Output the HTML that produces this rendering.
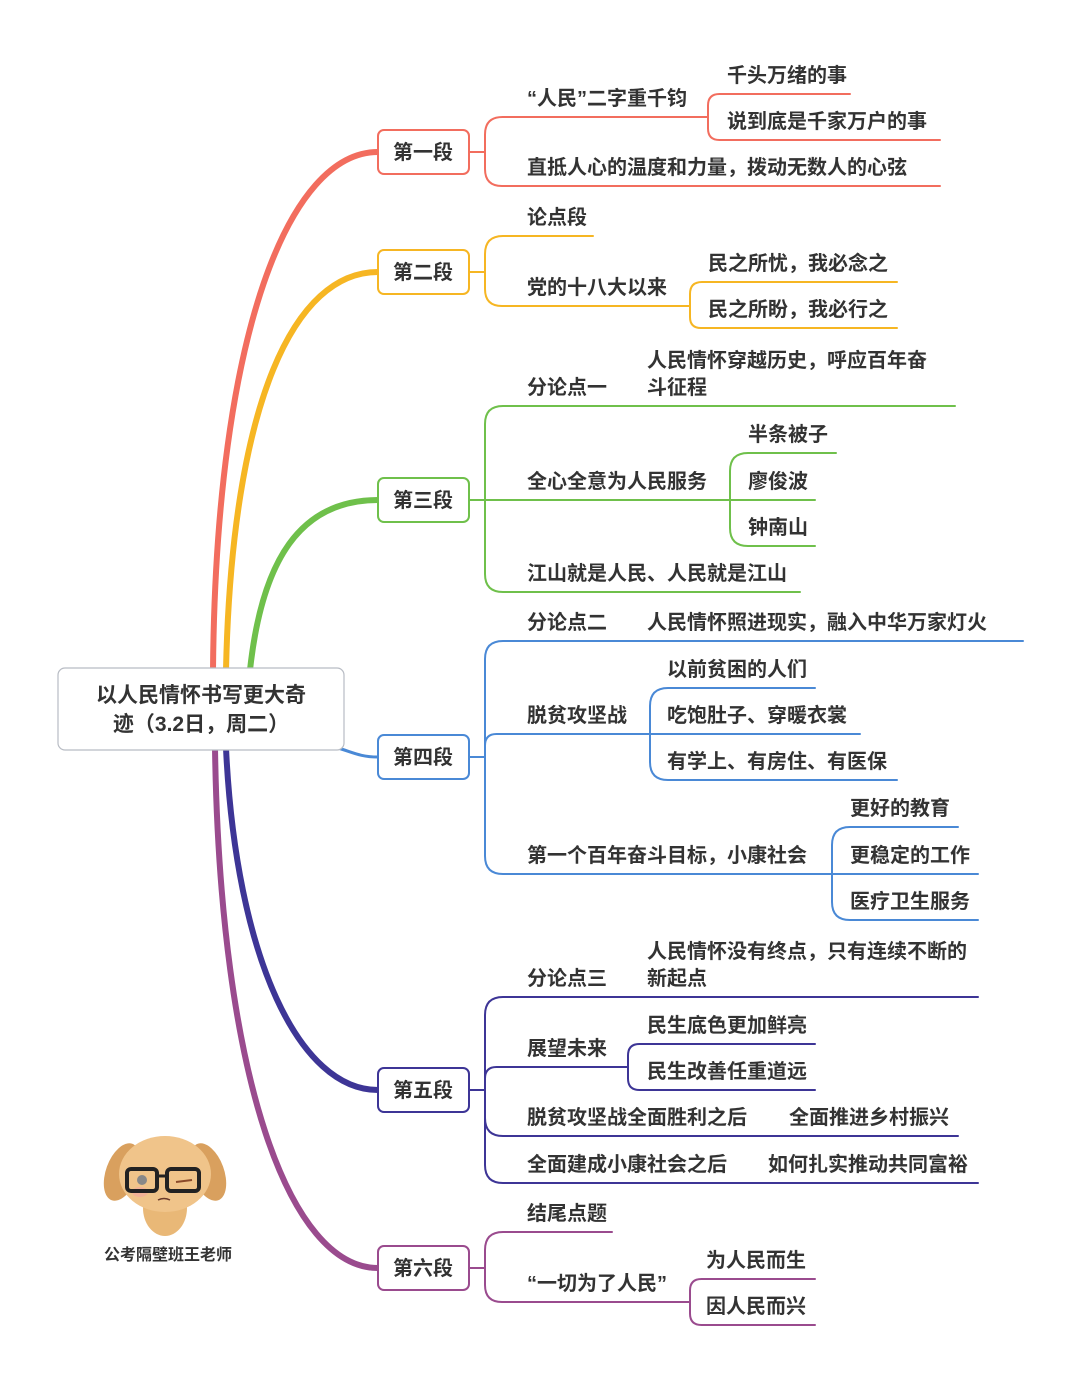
<!DOCTYPE html>
<html><head><meta charset="utf-8"><style>
html,body{margin:0;padding:0;background:#fff;}
svg{display:block;}
text{font-family:"Liberation Sans","Noto Sans CJK SC",sans-serif;font-weight:bold;fill:#333;font-size:20px;}
</style></head><body>
<svg id="s" width="1080" height="1382" viewBox="0 0 1080 1382" xmlns="http://www.w3.org/2000/svg">
<g id="lines" fill="none" stroke-linecap="round"></g>
<g fill="none" stroke-linecap="round" stroke-width="6">
<path d="M213,670 C216,330 290,152 378,152" stroke="#f26d5e"/>
<path d="M226,670 C232,400 295,272 378,272" stroke="#f6b623"/>
<path d="M250,670 C262,560 300,500 378,500" stroke="#6fc04b"/>
<path d="M226,748 C236,960 300,1090 378,1090" stroke="#3d3596"/>
<path d="M215,748 C220,1080 290,1268 378,1268" stroke="#9a4b8e"/>
<path d="M338,748 C352,752 360,757 378,757" stroke="#4a89d6" stroke-width="3"/>
</g>
<rect x="58" y="668" width="286" height="82" rx="7" fill="#fff" stroke="#b8bcc4" stroke-width="1.2"/>
<text x="201" y="702" text-anchor="middle" style="font-size:21px">以人民情怀书写更大奇</text>
<text x="201" y="731" text-anchor="middle" style="font-size:21px">迹（3.2日，周二）</text>
<g fill="#fff" stroke-width="2">
<rect x="378" y="130" width="91" height="44" rx="6" stroke="#f26d5e"/>
<rect x="378" y="250" width="91" height="44" rx="6" stroke="#f6b623"/>
<rect x="378" y="478" width="91" height="44" rx="6" stroke="#6fc04b"/>
<rect x="378" y="735" width="91" height="44" rx="6" stroke="#4a89d6"/>
<rect x="378" y="1068" width="91" height="44" rx="6" stroke="#3d3596"/>
<rect x="378" y="1246" width="91" height="44" rx="6" stroke="#9a4b8e"/>
</g>
<g text-anchor="middle">
<text x="423" y="159">第一段</text><text x="423" y="279">第二段</text><text x="423" y="507">第三段</text>
<text x="423" y="764">第四段</text><text x="423" y="1097">第五段</text><text x="423" y="1275">第六段</text>
</g>
<text x="527" y="105">“人民”二字重千钧</text>
<text x="527" y="174">直抵人心的温度和力量，拨动无数人的心弦</text>
<text x="727" y="82">千头万绪的事</text>
<text x="727" y="128">说到底是千家万户的事</text>
<text x="527" y="224">论点段</text>
<text x="527" y="294">党的十八大以来</text>
<text x="708" y="270">民之所忧，我必念之</text>
<text x="708" y="316">民之所盼，我必行之</text>
<text x="527" y="394">分论点一</text>
<text x="647" y="367">人民情怀穿越历史，呼应百年奋</text>
<text x="647" y="394">斗征程</text>
<text x="527" y="488">全心全意为人民服务</text>
<text x="748" y="441">半条被子</text>
<text x="748" y="488">廖俊波</text>
<text x="748" y="534">钟南山</text>
<text x="527" y="580">江山就是人民、人民就是江山</text>
<text x="527" y="629">分论点二</text>
<text x="647" y="629">人民情怀照进现实，融入中华万家灯火</text>
<text x="527" y="722">脱贫攻坚战</text>
<text x="667" y="676">以前贫困的人们</text>
<text x="667" y="722">吃饱肚子、穿暖衣裳</text>
<text x="667" y="768">有学上、有房住、有医保</text>
<text x="527" y="862">第一个百年奋斗目标，小康社会</text>
<text x="850" y="815">更好的教育</text>
<text x="850" y="862">更稳定的工作</text>
<text x="850" y="908">医疗卫生服务</text>
<text x="527" y="985">分论点三</text>
<text x="647" y="958">人民情怀没有终点，只有连续不断的</text>
<text x="647" y="985">新起点</text>
<text x="527" y="1055">展望未来</text>
<text x="647" y="1032">民生底色更加鲜亮</text>
<text x="647" y="1078">民生改善任重道远</text>
<text x="527" y="1124">脱贫攻坚战全面胜利之后</text>
<text x="789" y="1124">全面推进乡村振兴</text>
<text x="527" y="1171">全面建成小康社会之后</text>
<text x="768" y="1171">如何扎实推动共同富裕</text>
<text x="527" y="1220">结尾点题</text>
<text x="527" y="1290">“一切为了人民”</text>
<text x="706" y="1267">为人民而生</text>
<text x="706" y="1313">因人民而兴</text>
<g>
<ellipse cx="165" cy="1208" rx="22" ry="28" fill="#e9b877"/>
<ellipse cx="122" cy="1172" rx="16" ry="30" fill="#d9a05e" transform="rotate(20 122 1172)"/>
<ellipse cx="208" cy="1172" rx="16" ry="30" fill="#d9a05e" transform="rotate(-20 208 1172)"/>
<ellipse cx="165" cy="1174" rx="46" ry="38" fill="#f0c48a"/>
<ellipse cx="140" cy="1192" rx="8" ry="5" fill="#f4a7a0" opacity=".6"/>
<rect x="127" y="1169" width="30" height="22" rx="4" fill="none" stroke="#222" stroke-width="4"/>
<rect x="167" y="1169" width="32" height="22" rx="4" fill="none" stroke="#222" stroke-width="4"/>
<line x1="157" y1="1176" x2="167" y2="1176" stroke="#222" stroke-width="3"/>
<circle cx="142" cy="1180" r="5" fill="#888"/>
<path d="M176,1182 L192,1180" stroke="#8a4a2a" stroke-width="2"/>
<path d="M158,1200 q6,-3 12,0" stroke="#6a3a2a" stroke-width="1.5" fill="none"/>
</g>
<text x="168" y="1260" text-anchor="middle" style="font-size:16px">公考隔壁班王老师</text>
</svg>
<script>
var g=document.getElementById('lines'),NS='http://www.w3.org/2000/svg';
function P(d,c,w){var p=document.createElementNS(NS,'path');p.setAttribute('d',d);p.setAttribute('stroke',c);p.setAttribute('stroke-width',w||2);g.appendChild(p);}
function br(px,py,bx,kids,c){kids.forEach(function(k){var cy=k[0],x2=k[1];var d;
 if(Math.abs(cy-py)<1){d='M'+px+','+py+' L'+x2+','+cy;}
 else{var dir=cy>py?1:-1,r=Math.min(18,Math.abs(cy-py)/2);
  if(bx>px){d='M'+px+','+py+' L'+bx+','+py;} else d='M'+bx+','+py;
  d+=' L'+bx+','+(cy-dir*r)+' Q'+bx+','+cy+' '+(bx+r)+','+cy+' L'+x2+','+cy;}
 P(d,c);});}
var c1='#f26d5e',c2='#f6b623',c3='#6fc04b',c4='#4a89d6',c5='#3d3596',c6='#9a4b8e';
br(469,152,485,[[117,708],[186,940]],c1);br(708,117,708,[[94,850],[140,940]],c1);
br(469,272,485,[[236,593],[306,690]],c2);br(690,306,690,[[282,897],[328,897]],c2);
br(469,500,485,[[406,955],[500,730],[592,800]],c3);br(730,500,730,[[453,836],[500,815],[546,815]],c3);
br(469,757,485,[[641,1023],[734,650],[874,832]],c4);br(650,734,650,[[688,815],[734,860],[780,897]],c4);br(832,874,832,[[827,958],[874,978],[920,978]],c4);
br(469,1090,485,[[997,978],[1067,628],[1136,958],[1183,978]],c5);br(628,1067,628,[[1044,815],[1090,815]],c5);
br(469,1268,485,[[1232,612],[1302,690]],c6);br(690,1302,690,[[1279,815],[1325,815]],c6);
</script>
</body></html>
